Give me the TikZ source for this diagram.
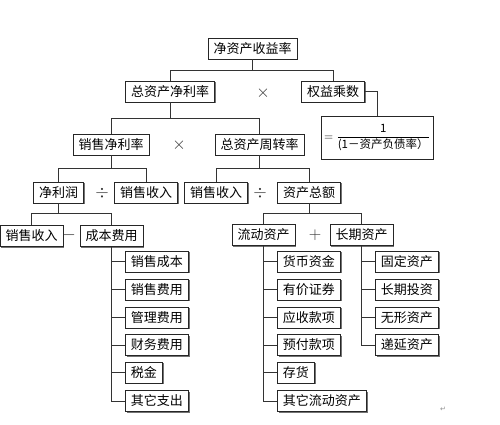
\documentclass[tikz,border=0pt]{standalone}
\usepackage{fontspec}
\newfontfamily\cjk{Noto Sans CJK SC}
\newfontfamily\dejavu{DejaVu Sans}
\usetikzlibrary{shadows}
\begin{document}
\begin{tikzpicture}[x=1pt,y=-1pt,
  box/.style={draw=black!85, line width=0.7pt, fill=white, inner xsep=5.5pt, inner ysep=0pt,
    minimum height=21pt, font=\cjk\fontsize{13}{14}\selectfont,
    drop shadow={shadow xshift=1.3pt, shadow yshift=-1.3pt, fill=black!55, opacity=1}},
  conn/.style={draw=black!80, line width=0.8pt},
  op/.style={font=\fontsize{17}{18}\selectfont, inner sep=0pt, text=black!80}]
\useasboundingbox (0,0) rectangle (500,424);
% levels
\coordinate (y1) at (0,70);
\coordinate (y2) at (0,118);
\coordinate (y3) at (0,168);
\coordinate (y4) at (0,213.5);
% nodes
\node[box] (roe) at (252.5,48.5) {净资产收益率};
\node[box] (zzc) at (170,91.5) {总资产净利率};
\node[box] (qy) at (333,91.5) {权益乘数};
\node[box, minimum width=112pt, minimum height=43pt, inner xsep=3pt, font=\cjk\fontsize{11.5}{13}\selectfont] (fm) at (377,137.5) {$=\displaystyle\frac{\mbox{1}}{\mbox{(1－资产负债率）}}$};
\node[box] (xsjl) at (111,144.5) {销售净利率};
\node[box] (zzz) at (259.5,144.5) {总资产周转率};
\node[box] (jlr) at (58.5,192.5) {净利润};
\node[box] (xs1) at (146,192.5) {销售收入};
\node[box] (xs2) at (216,192.5) {销售收入};
\node[box] (zcze) at (309,192.5) {资产总额};
\node[box] (xs3) at (31.5,236) {销售收入};
\node[box] (cbfy) at (111.5,236) {成本费用};
\node[box] (ldzc) at (263.5,235) {流动资产};
\node[box] (cqzc) at (361.5,235) {长期资产};
% expense children
\node[box, anchor=west] (e1) at (125,261.5) {销售成本};
\node[box, anchor=west] (e2) at (125,289.5) {销售费用};
\node[box, anchor=west] (e3) at (125,317.5) {管理费用};
\node[box, anchor=west] (e4) at (125,345) {财务费用};
\node[box, anchor=west] (e5) at (125,372.5) {税金};
\node[box, anchor=west] (e6) at (125,401) {其它支出};
% current assets children
\node[box, anchor=west] (a1) at (277,261.5) {货币资金};
\node[box, anchor=west] (a2) at (277,289.5) {有价证券};
\node[box, anchor=west] (a3) at (277,317.5) {应收款项};
\node[box, anchor=west] (a4) at (277,345) {预付款项};
\node[box, anchor=west] (a5) at (277,372.5) {存货};
\node[box, anchor=west] (a6) at (277,401) {其它流动资产};
% long-term assets children
\node[box, anchor=west] (l1) at (375,261.5) {固定资产};
\node[box, anchor=west] (l2) at (375,289.5) {长期投资};
\node[box, anchor=west] (l3) at (375,317.5) {无形资产};
\node[box, anchor=west] (l4) at (375,345) {递延资产};
% operators
\node[op] (o1) at (263,93) {$\times$};
\node[op] (o2) at (179,145) {$\times$};
\node[op] (o3) at (102,193) {$\div$};
\node[op] (o4) at (260,193) {$\div$};
\node[op] (o5) at (69,235) {$-$};
\node[op] (o6) at (315,235) {$+$};
\node[font=\dejavu\fontsize{7}{8}\selectfont, text=black!45, inner sep=0pt] (ret) at (443,409) {↵};
% connectors (tree)
\draw[conn] (roe.south) -- (roe.south |- y1);
\draw[conn] (zzc.north) -- (zzc.north |- y1) -- (qy.north |- y1) -- (qy.north);
\draw[conn] (qy.east) -| (fm.north);
\draw[conn] (zzc.south) -- (zzc.south |- y2);
\draw[conn] (xsjl.north) -- (xsjl.north |- y2) -- (zzz.north |- y2) -- (zzz.north);
\draw[conn] (xsjl.south) -- (xsjl.south |- y3);
\draw[conn] (jlr.north) -- (jlr.north |- y3) -- (xs1.north |- y3) -- (xs1.north);
\draw[conn] (zzz.south) -- (zzz.south |- y3);
\draw[conn] (xs2.north) -- (xs2.north |- y3) -- (zcze.north |- y3) -- (zcze.north);
\draw[conn] (jlr.south) -- (jlr.south |- y4);
\draw[conn] (xs3.north) -- (xs3.north |- y4) -- (cbfy.north |- y4) -- (cbfy.north);
\draw[conn] (zcze.south) -- (zcze.south |- y4);
\draw[conn] (ldzc.north) -- (ldzc.north |- y4) -- (cqzc.north |- y4) -- (cqzc.north);
% buses
\draw[conn] (cbfy.south) -- (cbfy.south |- e6.west) -- (e6.west);
\foreach \n in {e1,e2,e3,e4,e5} \draw[conn] (cbfy.south |- \n.west) -- (\n.west);
\draw[conn] (ldzc.south) -- (ldzc.south |- a6.west) -- (a6.west);
\foreach \n in {a1,a2,a3,a4,a5} \draw[conn] (ldzc.south |- \n.west) -- (\n.west);
\draw[conn] (cqzc.south) -- (cqzc.south |- l4.west) -- (l4.west);
\foreach \n in {l1,l2,l3} \draw[conn] (cqzc.south |- \n.west) -- (\n.west);
\end{tikzpicture}
\end{document}
